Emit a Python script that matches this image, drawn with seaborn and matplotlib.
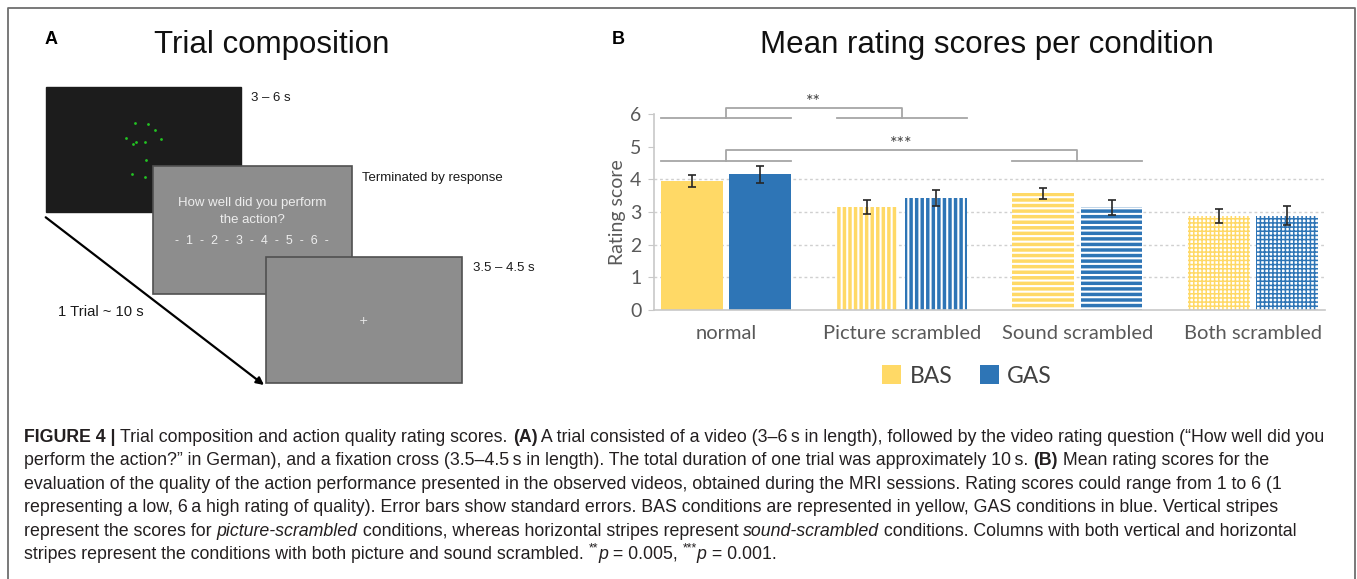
import matplotlib
matplotlib.use("Agg")
import matplotlib.pyplot as plt
import pandas as pd
import seaborn as sns
from matplotlib import font_manager
from matplotlib.font_manager import FontProperties
from matplotlib.patches import Patch, Rectangle


# Values (panel B)
conditions = ["normal", "Picture scrambled", "Sound scrambled", "Both scrambled"]
groups = ["BAS", "GAS"]
bas_means = [3.94, 3.16, 3.58, 2.87]
gas_means = [4.16, 3.42, 3.15, 2.88]
bas_se = [0.18, 0.21, 0.17, 0.22]
gas_se = [0.26, 0.25, 0.23, 0.29]
condition_hatches = ["", "|||", "---", "++++"]
sig_pairs = [(0, 1, "**"), (0, 2, "***")]
yticks = [0, 1, 2, 3, 4, 5, 6]
grid_levels = [1, 2, 3, 4]

YELLOW = "#FFD966"
BLUE = "#2E75B6"
GRAY_TEXT = "#595959"

W, H = 1357, 579

# Caption lines, as (text, style) pieces
caption_lines = [
    [("FIGURE 4 | ", "bold"), ("Trial composition and action quality rating scores. ", "normal"),
     ("(A)", "bold"),
     (" A trial consisted of a video (3\u20136\u2009s in length), followed by the video rating question (\u201cHow well did you", "normal")],
    [("perform the action?\u201d in German), and a fixation cross (3.5\u20134.5\u2009s in length). The total duration of one trial was approximately 10\u2009s. ", "normal"),
     ("(B)", "bold"), (" Mean rating scores for the", "normal")],
    [("evaluation of the quality of the action performance presented in the observed videos, obtained during the MRI sessions. Rating scores could range from 1 to 6 (1", "normal")],
    [("representing a low, 6\u2009a high rating of quality). Error bars show standard errors. BAS conditions are represented in yellow, GAS conditions in blue. Vertical stripes", "normal")],
    [("represent the scores for ", "normal"), ("picture-scrambled", "italic"),
     (" conditions, whereas horizontal stripes represent ", "normal"), ("sound-scrambled", "italic"),
     (" conditions. Columns with both vertical and horizontal", "normal")],
    [("stripes represent the conditions with both picture and sound scrambled. ", "normal"),
     ("**", "sup"), ("p", "italic"), (" = 0.005, ", "normal"), ("***", "sup"), ("p", "italic"),
     (" = 0.001.", "normal")],
]

plt.rcParams["hatch.linewidth"] = 1.5
plt.rcParams["hatch.color"] = "white"

font_names = {f.name for f in font_manager.fontManager.ttflist}
cap_family = "Liberation Sans Narrow" if "Liberation Sans Narrow" in font_names else "Liberation Sans"


def piece_props(style, size):
    weight = "bold" if style == "bold" else "normal"
    fstyle = "italic" if style == "italic" else "normal"
    if style == "sup":
        size = size * 0.7
    return FontProperties(family=cap_family, size=size, weight=weight, style=fstyle)


def piece_width(renderer, text, prop):
    w1, _, _ = renderer.get_text_width_height_descent("|" + text + "|", prop, ismath=False)
    w0, _, _ = renderer.get_text_width_height_descent("||", prop, ismath=False)
    return w1 - w0


def draw_caption(ax, renderer):
    # fit the font size so the first line spans the same width as the reference
    base = 10.0
    w = sum(piece_width(renderer, t, piece_props(s, base)) for t, s in caption_lines[0])
    size = base * 1306 / w
    y = 442
    for line in caption_lines:
        x = 24
        for text, style in line:
            prop = piece_props(style, size)
            dy = -0.45 * size * 100 / 72 if style == "sup" else 0
            ax.text(x, y + dy, text, fontproperties=prop, color="#231f20",
                    ha="left", va="baseline")
            x += piece_width(renderer, text, prop)
        y += 23.4


def draw_panel_a(ax):
    ax.text(45, 40, "A", fontsize=13, fontweight="bold", family="Liberation Sans",
            ha="left", va="center")
    ax.text(272, 45, "Trial composition", fontsize=22.5, family="Liberation Sans",
            ha="center", va="center", color="#111111")

    # video screen with point-light dots
    ax.add_patch(Rectangle((45.7, 86.7), 195, 125.6, facecolor="#1c1c1c", edgecolor="#1c1c1c"))
    dots_x = [135, 148.3, 155, 126, 136, 132.7, 145, 161, 145.7, 132.3, 144.7]
    dots_y = [123.3, 124, 130, 138.3, 141.7, 144.3, 142, 139.3, 160, 174.3, 176.7]
    ax.scatter(dots_x, dots_y, s=4, color="#22c422", linewidths=0, zorder=3)

    # rating question screen
    ax.add_patch(Rectangle((153.3, 165.7), 198.4, 128.6, facecolor="#8d8d8d",
                           edgecolor="#505050", lw=1.2, zorder=4))
    for ty, txt, fs in [(203.3, "How well did you perform", 9.5), (220, "the action?", 9.5),
                        (240.7, "-  1  -  2  -  3  -  4  -  5  -  6  -", 9)]:
        ax.text(252.3, ty, txt, fontsize=fs, family="Liberation Sans", color="#ededed",
                ha="center", va="center", zorder=5)

    # fixation cross screen
    ax.add_patch(Rectangle((265.7, 256.7), 196, 126.6, facecolor="#8d8d8d",
                           edgecolor="#505050", lw=1.2, zorder=6))
    ax.text(363.3, 321, "+", fontsize=8, color="#ededed", ha="center", va="center", zorder=7)

    lab = dict(family="Liberation Sans", color="#1a1a1a", ha="left", va="center")
    ax.text(251, 98.3, "3 \u2013 6 s", fontsize=9.5, **lab)
    ax.text(362.3, 178.3, "Terminated by response", fontsize=9.5, **lab)
    ax.text(472.7, 268.3, "3.5 \u2013 4.5 s", fontsize=9.5, **lab)
    ax.text(57.7, 311.7, "1 Trial ~ 10 s", fontsize=10.6, **lab)

    ax.annotate("", xy=(264, 385), xytext=(45.7, 217.3),
                arrowprops=dict(arrowstyle="-|>", color="black", lw=1.6,
                                mutation_scale=11, shrinkA=0, shrinkB=0))


def draw_panel_b(fig, canvas):
    canvas.text(612, 40, "B", fontsize=13, fontweight="bold", family="Liberation Sans",
                ha="left", va="center")
    canvas.text(987, 45, "Mean rating scores per condition", fontsize=22.5,
                family="Liberation Sans", ha="center", va="center", color="#111111")

    ax = fig.add_axes([654 / W, (H - 310) / H, (1325 - 654) / W, (310 - 114) / H])
    ax.set_facecolor("none")

    df = pd.DataFrame({
        "condition": conditions * 2,
        "group": [groups[0]] * len(conditions) + [groups[1]] * len(conditions),
        "score": bas_means + gas_means,
    })
    palette = [YELLOW, BLUE]
    sns.barplot(data=df, x="condition", y="score", hue="group", order=conditions,
                hue_order=groups, palette=palette, saturation=1, width=0.78,
                gap=0.1, errorbar=None, legend=False, ax=ax, zorder=2)

    bar_containers = list(ax.containers)
    errors = [bas_se, gas_se]
    for gi, container in enumerate(bar_containers):
        for ci, bar in enumerate(container):
            hatch = condition_hatches[ci]
            bar.set_hatch(hatch)
            bar.set_linewidth(0)
            if "+" in hatch:
                # grid: coloured lines on white
                bar.set_facecolor("white")
                bar.set_edgecolor(palette[gi])
                if hasattr(bar, "set_hatch_linewidth"):
                    bar.set_hatch_linewidth(1.1)
            else:
                bar.set_edgecolor("white")
            cx = bar.get_x() + bar.get_width() / 2
            ax.errorbar(cx, bar.get_height(), yerr=errors[gi][ci], fmt="none",
                        ecolor="#262626", elinewidth=1.2, capsize=3.2, capthick=1.2, zorder=4)

    ax.set_xlim(-0.41, 3.41)
    ax.set_ylim(0, 6)
    ax.set_yticks(yticks)
    for lvl in grid_levels:
        ax.axhline(lvl, color="#d0d0d0", lw=1.0, ls=(0, (2, 2)), zorder=1)

    for side in ["top", "right"]:
        ax.spines[side].set_visible(False)
    for side in ["left", "bottom"]:
        ax.spines[side].set_color("#c8c8c8")
        ax.spines[side].set_linewidth(1.2)
    ax.tick_params(axis="y", length=4, color="#c8c8c8", labelcolor=GRAY_TEXT,
                   labelsize=14, pad=5)
    ax.tick_params(axis="x", length=0, labelcolor=GRAY_TEXT, labelsize=14.5, pad=11)
    for lab in ax.get_xticklabels() + ax.get_yticklabels():
        lab.set_family("Lato")
    ax.set_xlabel("")
    ax.set_ylabel("Rating score", family="Lato", fontsize=14, color=GRAY_TEXT, labelpad=3)

    # significance brackets above the bars
    left_edges = [b.get_x() for b in bar_containers[0]]
    right_edges = [b.get_x() + b.get_width() for b in bar_containers[1]]
    levels = [(5.87, 6.19), (4.56, 4.90)]
    for (a, b, label), (low, high) in zip(sig_pairs, levels):
        line = dict(color="#a6a6a6", lw=1.3, clip_on=False, zorder=3)
        ax.plot([left_edges[a], right_edges[a]], [low, low], **line)
        ax.plot([left_edges[b], right_edges[b]], [low, low], **line)
        ax.plot([a, a, b, b], [low, high, high, low], **line)
        ax.text((a + b) / 2, high + 0.02, label, family="Lato", fontsize=13,
                color="#404040", ha="center", va="baseline", clip_on=False)

    handles = [Patch(facecolor=YELLOW), Patch(facecolor=BLUE)]
    leg = fig.legend(handles, groups, loc="center", bbox_to_anchor=(967 / W, 1 - 376 / H),
                     ncol=2, frameon=False, handlelength=0.85, handleheight=0.85,
                     handletextpad=0.35, columnspacing=1.2,
                     prop=FontProperties(family="Lato", size=16.5))
    for t in leg.get_texts():
        t.set_color("#404040")
    return ax


def main():
    fig = plt.figure(figsize=(W / 100, H / 100), dpi=100)
    canvas = fig.add_axes([0, 0, 1, 1])
    canvas.set_xlim(0, W)
    canvas.set_ylim(H, 0)
    canvas.axis("off")

    # outer frame (open at the bottom)
    canvas.plot([8, 8, 1355, 1355], [H + 5, 8, 8, H + 5], color="#6e6e6e", lw=1.3,
                clip_on=False)

    draw_panel_a(canvas)
    draw_panel_b(fig, canvas)
    draw_caption(canvas, fig.canvas.get_renderer())

    fig.savefig("out.png", dpi=100)


if __name__ == "__main__":
    main()
